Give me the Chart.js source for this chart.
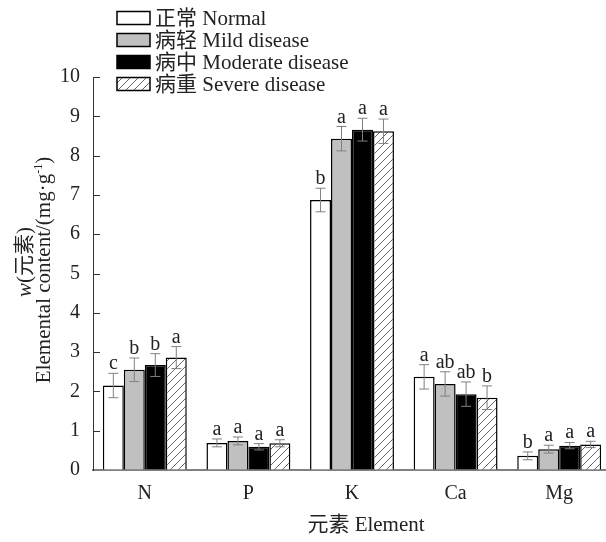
<!DOCTYPE html>
<html>
<head>
<meta charset="utf-8">
<script src="https://cdn.jsdelivr.net/npm/chart.js@4/dist/chart.umd.min.js"></script>
<style>
  html, body { margin: 0; padding: 0; background: #fff; }
  #wrap { width: 606px; height: 542px; overflow: hidden; }
</style>
</head>
<body>
<div id="wrap"><canvas id="chart" width="616" height="542"></canvas></div>
<script>
// element categories
const categories = ['N', 'P', 'K', 'Ca', 'Mg'];

// means, mg/g
const normal   = [2.15, 0.69, 6.87, 2.37, 0.36];
const mild     = [2.55, 0.74, 8.43, 2.19, 0.53];
const moderate = [2.67, 0.59, 8.66, 1.93, 0.62];
const severe   = [2.86, 0.68, 8.62, 1.84, 0.65];

// standard errors
const normalErr   = [0.31, 0.10, 0.30, 0.31, 0.10];
const mildErr     = [0.30, 0.10, 0.31, 0.31, 0.10];
const moderateErr = [0.29, 0.08, 0.29, 0.31, 0.08];
const severeErr   = [0.28, 0.09, 0.31, 0.30, 0.08];

// significance letters
const normalSig   = ['c', 'a', 'b', 'a', 'b'];
const mildSig     = ['b', 'a', 'a', 'ab', 'a'];
const moderateSig = ['b', 'a', 'a', 'ab', 'a'];
const severeSig   = ['a', 'a', 'a', 'b', 'a'];

const yTicks = [0, 1, 2, 3, 4, 5, 6, 7, 8, 9, 10];

const FONT = "'Liberation Serif', 'Noto Sans CJK SC', serif";

function hatch() {
  const c = document.createElement('canvas');
  c.width = 8; c.height = 8;
  const g = c.getContext('2d');
  g.fillStyle = '#fff';
  g.fillRect(0, 0, 8, 8);
  g.strokeStyle = '#666';
  g.lineWidth = 1;
  g.beginPath();
  g.moveTo(0, 8); g.lineTo(8, 0);
  g.moveTo(-1, 1); g.lineTo(1, -1);
  g.moveTo(7, 9); g.lineTo(9, 7);
  g.stroke();
  return g.createPattern(c, 'repeat');
}

const ctx = document.getElementById('chart').getContext('2d');
const hatchFill = hatch();

function ds(label, data, err, sig, fill) {
  return {
    label: label, data: data, errors: err, letters: sig,
    backgroundColor: fill, borderColor: '#000', borderWidth: 1.5,
    categoryPercentage: 0.81, barPercentage: 1.0
  };
}

// error bars + letters
const errorBars = {
  id: 'errorBars',
  afterDatasetsDraw(chart) {
    const c = chart.ctx, y = chart.scales.y;
    c.save();
    chart.data.datasets.forEach((d, i) => {
      chart.getDatasetMeta(i).data.forEach((bar, j) => {
        const v = d.data[j], e = d.errors[j];
        const top = y.getPixelForValue(v + e), bot = y.getPixelForValue(v - e);
        c.strokeStyle = '#808080';
        c.lineWidth = 1;
        c.beginPath();
        c.moveTo(bar.x, top); c.lineTo(bar.x, bot);
        c.moveTo(bar.x - 5, top); c.lineTo(bar.x + 5, top);
        c.moveTo(bar.x - 5, bot); c.lineTo(bar.x + 5, bot);
        c.stroke();
        c.fillStyle = '#222';
        c.font = '20px ' + FONT;
        c.textAlign = 'center';
        c.textBaseline = 'alphabetic';
        c.fillText(d.letters[j], bar.x, top - 4);
      });
    });
    c.restore();
  },
  afterDraw(chart) {
    const c = chart.ctx, y = chart.scales.y, area = chart.chartArea;
    c.save();
    // inward y ticks
    c.strokeStyle = '#333';
    c.lineWidth = 1;
    c.beginPath();
    yTicks.forEach(t => {
      if (t === 0) return;
      const py = Math.round(y.getPixelForValue(t)) + 0.5;
      c.moveTo(area.left, py); c.lineTo(area.left + 7, py);
    });
    c.stroke();

    // legend
    c.font = '21px ' + FONT;
    c.textAlign = 'left';
    c.textBaseline = 'middle';
    chart.data.datasets.forEach((d, i) => {
      const cy = 18 + i * 22;
      c.fillStyle = d.backgroundColor;
      c.fillRect(117, cy - 6.5, 33, 13);
      c.strokeStyle = '#000';
      c.lineWidth = 1.5;
      c.strokeRect(117, cy - 6.5, 33, 13);
      c.fillStyle = '#222';
      c.fillText(d.label, 155, cy + 1);
    });

    // x title
    c.textAlign = 'center';
    c.fillText('元素 Element', 366, 525);

    // y title, two rotated lines
    c.textAlign = 'left';
    c.textBaseline = 'alphabetic';
    const parts1 = [['w', 'italic 21px ' + FONT, 0], ['(元素)', '21px ' + FONT, 0]];
    const parts2 = [['Elemental content/(mg·g', '21px ' + FONT, 0], ['-1', '12px ' + FONT, -8], [')', '21px ' + FONT, 0]];
    [[parts1, 31, 262], [parts2, 50, 270]].forEach(([parts, bx, cy]) => {
      let w = 0;
      parts.forEach(p => { c.font = p[1]; w += c.measureText(p[0]).width; });
      c.save();
      c.translate(bx, cy);
      c.rotate(-Math.PI / 2);
      let x = -w / 2;
      parts.forEach(p => {
        c.font = p[1];
        c.fillText(p[0], x, p[2]);
        x += c.measureText(p[0]).width;
      });
      c.restore();
    });
    c.restore();
  }
};

new Chart(ctx, {
  type: 'bar',
  data: {
    labels: categories,
    datasets: [
      ds('正常 Normal', normal, normalErr, normalSig, '#ffffff'),
      ds('病轻 Mild disease', mild, mildErr, mildSig, '#c0c0c0'),
      ds('病中 Moderate disease', moderate, moderateErr, moderateSig, '#000000'),
      ds('病重 Severe disease', severe, severeErr, severeSig, hatchFill)
    ]
  },
  options: {
    responsive: false,
    animation: false,
    layout: { padding: { top: 77, right: 5, left: 0, bottom: 0 } },
    plugins: { legend: { display: false }, tooltip: { enabled: false } },
    scales: {
      x: {
        offset: true,
        grid: { drawOnChartArea: false, drawTicks: false },
        border: { display: true, color: '#808080', width: 2 },
        ticks: { color: '#222', font: { family: FONT, size: 20 }, padding: 12 },
        afterFit(s) { s.height = 72; }
      },
      y: {
        min: 0, max: 10,
        afterBuildTicks(s) { s.ticks = yTicks.map(v => ({ value: v })); },
        grid: { drawOnChartArea: false, drawTicks: false },
        border: { display: true, color: '#333', width: 1 },
        ticks: { color: '#222', font: { family: FONT, size: 20 }, padding: 13 },
        afterFit(s) { s.width = 93; }
      }
    }
  },
  plugins: [errorBars]
});
</script>
</body>
</html>
